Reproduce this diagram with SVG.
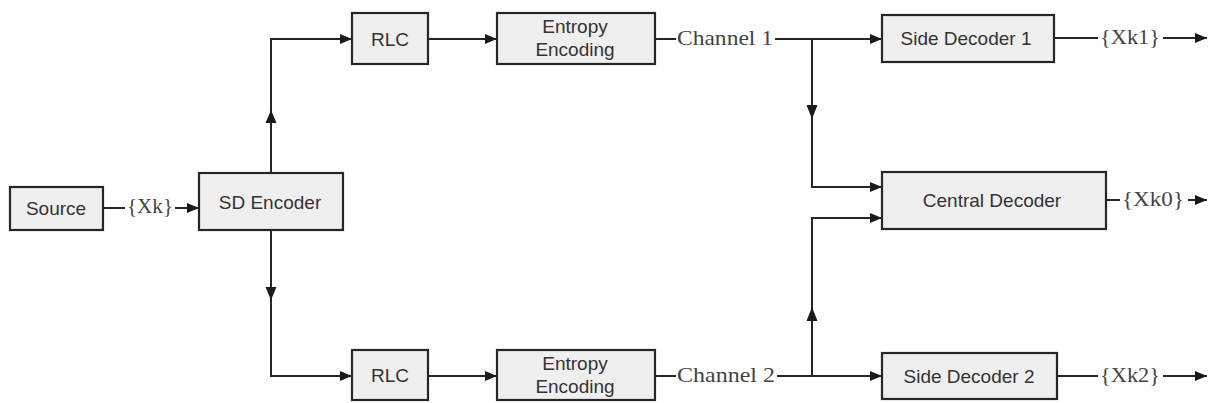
<svg xmlns="http://www.w3.org/2000/svg" width="1208" height="403" viewBox="0 0 1208 403">
  <style>
    .box { fill: #efefef; stroke: #262626; stroke-width: 2.2; }
    .lbl { font-family: "Liberation Sans", Arial, sans-serif; font-size: 19px; fill: #333; text-anchor: middle; }
    .sig { font-family: "Liberation Serif", "Times New Roman", serif; font-size: 22px; fill: #444; }
    .wire { fill: none; stroke: #262626; stroke-width: 2; }
    .head { fill: #1a1a1a; }
  </style>
  <defs>
    <marker id="arrow" markerUnits="userSpaceOnUse" markerWidth="12" markerHeight="10" refX="12" refY="5" orient="auto">
      <path d="M0,0 L12,5 L0,10 z" fill="#1a1a1a"/>
    </marker>
  </defs>
  <rect width="1208" height="403" fill="#ffffff"/>

  <!-- connectors -->
  <g id="connectors">
    <!-- source to encoder -->
    <line class="wire" x1="103" y1="208" x2="125" y2="208"/>
    <line class="wire" x1="175" y1="208" x2="199" y2="208" marker-end="url(#arrow)"/>
    <!-- encoder to the two RLC branches -->
    <path class="wire" d="M271,173 V39 H352" marker-end="url(#arrow)"/>
    <polygon class="head" points="271,110 265.5,123 276.5,123"/>
    <path class="wire" d="M271,230 V376 H352" marker-end="url(#arrow)"/>
    <polygon class="head" points="271,300 265.5,287 276.5,287"/>
    <!-- RLC to entropy coders -->
    <line class="wire" x1="428" y1="39" x2="497" y2="39" marker-end="url(#arrow)"/>
    <line class="wire" x1="428" y1="376" x2="497" y2="376" marker-end="url(#arrow)"/>
    <!-- entropy coders onto the channels -->
    <line class="wire" x1="655" y1="39" x2="676" y2="39"/>
    <line class="wire" x1="655" y1="376" x2="676" y2="376"/>
    <!-- channel 1 to side decoder 1 and central decoder -->
    <line class="wire" x1="775" y1="39" x2="882" y2="39" marker-end="url(#arrow)"/>
    <path class="wire" d="M812,39 V187 H882" marker-end="url(#arrow)"/>
    <polygon class="head" points="812,119 806.5,105 817.5,105"/>
    <!-- channel 2 to side decoder 2 and central decoder -->
    <line class="wire" x1="777" y1="376" x2="882" y2="376" marker-end="url(#arrow)"/>
    <path class="wire" d="M812,376 V218 H882" marker-end="url(#arrow)"/>
    <polygon class="head" points="812,307 806.5,321 817.5,321"/>
    <!-- decoder outputs -->
    <line class="wire" x1="1054" y1="38" x2="1098" y2="38"/>
    <line class="wire" x1="1163" y1="38" x2="1207" y2="38" marker-end="url(#arrow)"/>
    <line class="wire" x1="1106" y1="200" x2="1120" y2="200"/>
    <line class="wire" x1="1188" y1="200" x2="1207" y2="200" marker-end="url(#arrow)"/>
    <line class="wire" x1="1057" y1="376" x2="1098" y2="376"/>
    <line class="wire" x1="1163" y1="376" x2="1207" y2="376" marker-end="url(#arrow)"/>
  </g>

  <!-- signal labels -->
  <g id="signals">
    <text class="sig" x="127" y="213" textLength="46" lengthAdjust="spacingAndGlyphs">{Xk}</text>
    <text class="sig" x="677" y="45" textLength="96" lengthAdjust="spacingAndGlyphs">Channel 1</text>
    <text class="sig" x="677" y="382" textLength="98" lengthAdjust="spacingAndGlyphs">Channel 2</text>
    <text class="sig" x="1100" y="44" textLength="60" lengthAdjust="spacingAndGlyphs">{Xk1}</text>
    <text class="sig" x="1122" y="206" textLength="62" lengthAdjust="spacingAndGlyphs">{Xk0}</text>
    <text class="sig" x="1100" y="382" textLength="60" lengthAdjust="spacingAndGlyphs">{Xk2}</text>
  </g>

  <g id="source">
    <rect class="box" x="10" y="187" width="93" height="43"/>
    <text class="lbl" x="56" y="215">Source</text>
  </g>
  <g id="sd-encoder">
    <rect class="box" x="199" y="173" width="144" height="57"/>
    <text class="lbl" x="270" y="209">SD Encoder</text>
  </g>
  <g id="rlc-1">
    <rect class="box" x="352" y="13" width="76" height="51"/>
    <text class="lbl" x="390" y="46">RLC</text>
  </g>
  <g id="entropy-1">
    <rect class="box" x="497" y="13" width="158" height="51"/>
    <text class="lbl" x="575" y="33">Entropy</text>
    <text class="lbl" x="575" y="56">Encoding</text>
  </g>
  <g id="rlc-2">
    <rect class="box" x="352" y="350" width="76" height="50"/>
    <text class="lbl" x="390" y="382">RLC</text>
  </g>
  <g id="entropy-2">
    <rect class="box" x="497" y="350" width="158" height="50"/>
    <text class="lbl" x="575" y="370">Entropy</text>
    <text class="lbl" x="575" y="393">Encoding</text>
  </g>
  <g id="side-decoder-1">
    <rect class="box" x="882" y="15" width="172" height="47"/>
    <text class="lbl" x="966" y="45">Side Decoder 1</text>
  </g>
  <g id="central-decoder">
    <rect class="box" x="882" y="172" width="224" height="57"/>
    <text class="lbl" x="992" y="207">Central Decoder</text>
  </g>
  <g id="side-decoder-2">
    <rect class="box" x="882" y="353" width="175" height="46"/>
    <text class="lbl" x="969" y="383">Side Decoder 2</text>
  </g>
</svg>
